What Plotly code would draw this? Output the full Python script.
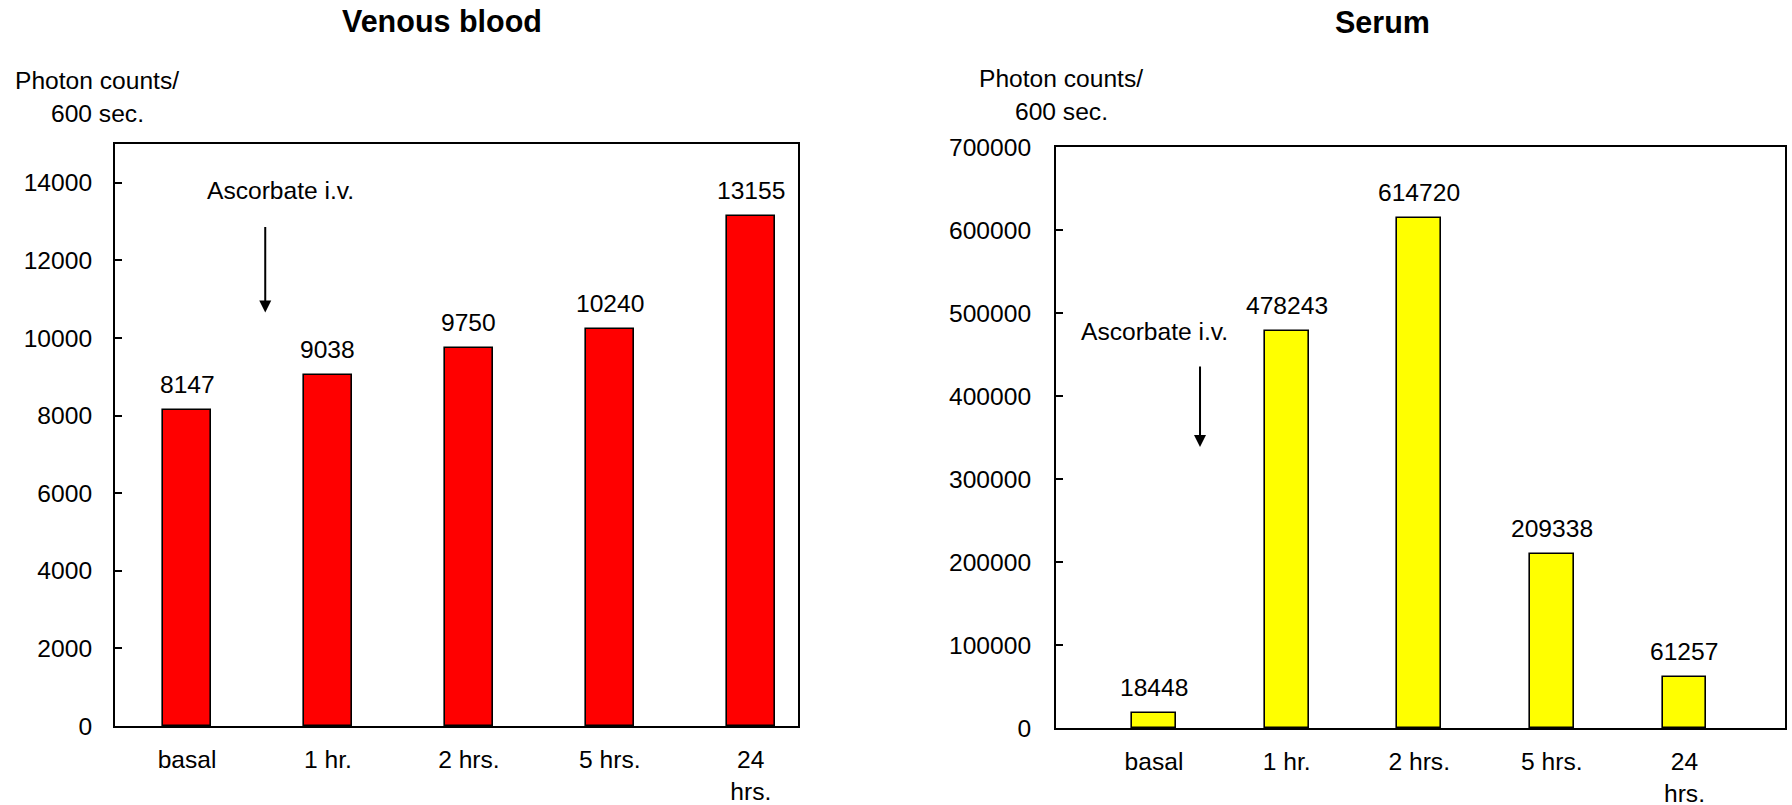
import plotly.graph_objects as go

categories = ["basal", "1 hr.", "2 hrs.", "5 hrs.", "24<br>hrs."]
venous_values = [8147, 9038, 9750, 10240, 13155]
serum_values = [18448, 478243, 614720, 209338, 61257]
venous_ticks = [0, 2000, 4000, 6000, 8000, 10000, 12000, 14000]
serum_ticks = [0, 100000, 200000, 300000, 400000, 500000, 600000, 700000]

W, H = 1792, 805
FONT = "Liberation Sans, Arial, sans-serif"
FS = 24.6

fig = go.Figure()
xpos = list(range(len(categories)))

fig.add_trace(go.Bar(x=xpos, y=venous_values, width=0.34, xaxis="x", yaxis="y",
                     marker=dict(color="#FF0000", line=dict(color="black", width=1.6)),
                     showlegend=False, hoverinfo="skip"))
fig.add_trace(go.Bar(x=xpos, y=serum_values, width=0.33, xaxis="x2", yaxis="y2",
                     marker=dict(color="#FFFF00", line=dict(color="black", width=1.6)),
                     showlegend=False, hoverinfo="skip"))

def px_x(p):
    return p / W

def px_y(p):
    return 1 - p / H

axis_common = dict(showline=True, linecolor="black", linewidth=2, mirror=True,
                   showgrid=False, zeroline=False, automargin=False,
                   tickfont=dict(family=FONT, size=FS, color="black"))

fig.update_layout(
    width=W, height=H, autosize=False,
    margin=dict(l=0, r=0, t=0, b=0, pad=0),
    paper_bgcolor="white", plot_bgcolor="white",
    font=dict(family=FONT, size=FS, color="black"),
    showlegend=False,
    bargap=0,
    xaxis=dict(domain=[px_x(115), px_x(798)], range=[-0.511, 4.335],
               tickmode="array", tickvals=xpos, ticktext=categories,
               ticks="", ticklabelstandoff=10, anchor="y", **axis_common),
    yaxis=dict(domain=[px_y(726), px_y(144)], range=[0, 15000],
               tickmode="array", tickvals=venous_ticks, ticktext=[str(v) for v in venous_ticks],
               ticks="inside", ticklen=7, tickwidth=2, tickcolor="black",
               ticklabelstandoff=16, anchor="x", **axis_common),
    xaxis2=dict(domain=[px_x(1056), px_x(1785)], range=[-0.739, 4.758],
                tickmode="array", tickvals=xpos, ticktext=categories,
                ticks="", ticklabelstandoff=10, anchor="y2", **axis_common),
    yaxis2=dict(domain=[px_y(728), px_y(147)], range=[0, 700000],
                tickmode="array", tickvals=serum_ticks, ticktext=[str(v) for v in serum_ticks],
                ticks="inside", ticklen=7, tickwidth=2, tickcolor="black",
                ticklabelstandoff=18, anchor="x2", **axis_common),
)

ann = []
# data labels
for i, v in enumerate(venous_values):
    ann.append(dict(x=i, y=v, xref="x", yref="y", text=str(v), showarrow=False,
                    yanchor="bottom", yshift=10, font=dict(size=FS)))
for i, v in enumerate(serum_values):
    ann.append(dict(x=i, y=v, xref="x2", yref="y2", text=str(v), showarrow=False,
                    yanchor="bottom", yshift=10, font=dict(size=FS)))

# titles
ann.append(dict(x=px_x(442), y=px_y(21), xref="paper", yref="paper", text="<b>Venous blood</b>",
                showarrow=False, font=dict(size=30.5), xanchor="center", yanchor="middle"))
ann.append(dict(x=px_x(1382), y=px_y(22), xref="paper", yref="paper", text="<b>Serum</b>",
                showarrow=False, font=dict(size=30.5), xanchor="center", yanchor="middle"))

# axis titles
for cx, y1, y2 in [(97, 81, 113), (1061, 78, 111)]:
    ann.append(dict(x=px_x(cx), y=px_y(y1), xref="paper", yref="paper", text="Photon counts/",
                    showarrow=False, font=dict(size=FS), xanchor="center", yanchor="middle"))
    ann.append(dict(x=px_x(cx), y=px_y(y2), xref="paper", yref="paper", text="600 sec.",
                    showarrow=False, font=dict(size=FS), xanchor="center", yanchor="middle"))

# Ascorbate i.v. labels and arrows
ann.append(dict(x=0.66, y=13800, xref="x", yref="y", text="Ascorbate i.v.", showarrow=False,
                font=dict(size=FS), xanchor="center", yanchor="middle"))
ann.append(dict(x=0.555, y=10654, ax=0.555, ay=12900, xref="x", yref="y", axref="x", ayref="y",
                text="", showarrow=True, arrowhead=2, arrowsize=1.2, arrowwidth=2, arrowcolor="black"))
ann.append(dict(x=0.0, y=478000, xref="x2", yref="y2", text="Ascorbate i.v.", showarrow=False,
                font=dict(size=FS), xanchor="center", yanchor="middle"))
ann.append(dict(x=0.347, y=338554, ax=0.347, ay=437350, xref="x2", yref="y2", axref="x2", ayref="y2",
                text="", showarrow=True, arrowhead=2, arrowsize=1.2, arrowwidth=2, arrowcolor="black"))

fig.update_layout(annotations=ann)
fig.write_html("out.html",
               config={"displayModeBar": False},
               post_script="document.body.style.margin='0';document.body.style.padding='0';"
                           "document.body.style.overflow='hidden';"
                           "document.documentElement.style.overflow='hidden';")
